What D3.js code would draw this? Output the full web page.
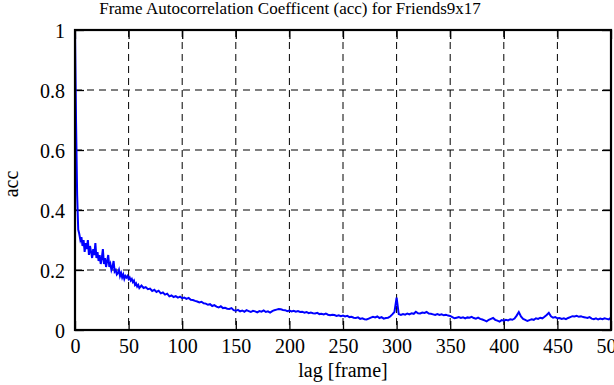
<!DOCTYPE html>
<html>
<head>
<meta charset="utf-8">
<script src="https://cdn.jsdelivr.net/npm/d3@7"></script>
<style>
  html, body { margin: 0; padding: 0; background: #fff; }
  svg { display: block; }
  text { font-family: "Liberation Serif", "Times New Roman", serif; fill: #000; }
</style>
</head>
<body>
<svg id="chart" width="614" height="385"></svg>
<script>
// ---- data ----
const title = "Frame Autocorrelation Coefficent (acc) for Friends9x17";
const xLabel = "lag [frame]";
const yLabel = "acc";
const xTicks = [0, 50, 100, 150, 200, 250, 300, 350, 400, 450, 500];
const yTicks = [0, 0.2, 0.4, 0.6, 0.8, 1];
const yTickLabels = ["0", "0.2", "0.4", "0.6", "0.8", "1"];

// acc for lag 0..60 (every frame)
const accHead = [
  1.0, 0.69, 0.45, 0.335, 0.32, 0.30, 0.31, 0.28, 0.30, 0.26,
  0.29, 0.27, 0.30, 0.25, 0.28, 0.26, 0.24, 0.27, 0.25, 0.29,
  0.24, 0.26, 0.23, 0.25, 0.22, 0.24, 0.27, 0.22, 0.24, 0.21,
  0.23, 0.25, 0.21, 0.22, 0.20, 0.21, 0.23, 0.195, 0.20, 0.185,
  0.19, 0.20, 0.18, 0.19, 0.175, 0.185, 0.17, 0.18, 0.175, 0.18,
  0.17, 0.175, 0.165, 0.17, 0.16, 0.165, 0.15, 0.155, 0.145, 0.15,
  0.14
];
// acc for lag 62..500 (every second frame)
const accTail = [
  0.148, 0.140, 0.143, 0.136, 0.138,
  0.130, 0.134, 0.127, 0.131, 0.122,
  0.125, 0.118, 0.121, 0.112, 0.115,
  0.110, 0.113, 0.108, 0.111, 0.106,
  0.108, 0.104, 0.107, 0.101, 0.100,
  0.097, 0.095, 0.092, 0.094, 0.089,
  0.088, 0.084, 0.086, 0.080, 0.083,
  0.078, 0.075, 0.079, 0.073, 0.074,
  0.071, 0.070, 0.073, 0.066, 0.064,
  0.067, 0.062, 0.065, 0.061, 0.066,
  0.063, 0.060, 0.064, 0.062, 0.059,
  0.063, 0.061, 0.065, 0.060, 0.062,
  0.058, 0.063, 0.066, 0.068, 0.070,
  0.069, 0.067, 0.066, 0.063, 0.065,
  0.062, 0.064, 0.061, 0.063, 0.060,
  0.061, 0.058, 0.060, 0.056, 0.058,
  0.056, 0.055, 0.057, 0.053, 0.054,
  0.052, 0.055, 0.051, 0.049, 0.051,
  0.050, 0.047, 0.049, 0.046, 0.048,
  0.045, 0.047, 0.043, 0.044, 0.041,
  0.040, 0.042, 0.037, 0.039, 0.036,
  0.035, 0.038, 0.041, 0.044, 0.042,
  0.045, 0.040, 0.043, 0.038, 0.040,
  0.041, 0.045, 0.052, 0.060, 0.108,
  0.053, 0.050, 0.053, 0.051, 0.055,
  0.052, 0.056, 0.054, 0.061, 0.056,
  0.055, 0.058, 0.057, 0.060, 0.055,
  0.054, 0.052, 0.050, 0.053, 0.050,
  0.052, 0.049, 0.051, 0.048, 0.047,
  0.043, 0.039, 0.041, 0.043, 0.040,
  0.042, 0.039, 0.042, 0.041, 0.044,
  0.040, 0.038, 0.041, 0.037, 0.035,
  0.032, 0.029, 0.034, 0.037, 0.040,
  0.034, 0.031, 0.028, 0.033, 0.031,
  0.034, 0.032, 0.036, 0.034, 0.038,
  0.048, 0.060, 0.045, 0.037, 0.034,
  0.030, 0.033, 0.036, 0.034, 0.039,
  0.037, 0.041, 0.039, 0.044, 0.050,
  0.057, 0.046, 0.041, 0.043, 0.039,
  0.040, 0.037, 0.039, 0.036, 0.040,
  0.043, 0.046, 0.045, 0.047, 0.044,
  0.046, 0.043, 0.042, 0.040, 0.043,
  0.038, 0.036, 0.039, 0.035, 0.038,
  0.036, 0.039, 0.037, 0.035, 0.042
];
const lagsHead = d3.range(0, 61, 1);
const lagsTail = d3.range(62, 501, 2);

const points = lagsHead.map((l, i) => ({lag: l, acc: accHead[i]}))
  .concat(lagsTail.map((l, i) => ({lag: l, acc: accTail[i]})));

// ---- layout ----
const svg = d3.select("#chart");
const m = {left: 75, right: 611, top: 30, bottom: 330};

const x = d3.scaleLinear().domain([0, 500]).range([m.left, m.right]);
const y = d3.scaleLinear().domain([0, 1]).range([m.bottom, m.top]);

// grid
const grid = svg.append("g");
grid.selectAll("line.gx").data(xTicks.slice(1, -1)).join("line")
  .attr("x1", d => x(d)).attr("x2", d => x(d))
  .attr("y1", m.top).attr("y2", m.bottom)
  .attr("stroke", "#000").attr("stroke-width", 1)
  .attr("stroke-dasharray", "7,5");
grid.selectAll("line.gy").data(yTicks.slice(1, -1)).join("line")
  .attr("x1", m.left).attr("x2", m.right)
  .attr("y1", d => y(d)).attr("y2", d => y(d))
  .attr("stroke", "#000").attr("stroke-width", 1)
  .attr("stroke-dasharray", "7,5");

// axes (ticks inward on all four sides)
const tickLen = 9;
const axB = svg.append("g").attr("transform", `translate(0,${m.bottom})`)
  .call(d3.axisBottom(x).tickValues(xTicks).tickSize(-tickLen).tickPadding(9).tickFormat(d3.format("d")));
const axT = svg.append("g").attr("transform", `translate(0,${m.top})`)
  .call(d3.axisTop(x).tickValues(xTicks).tickSize(-tickLen).tickFormat(""));
const axL = svg.append("g").attr("transform", `translate(${m.left},0)`)
  .call(d3.axisLeft(y).tickValues(yTicks).tickSize(-tickLen).tickPadding(10)
    .tickFormat((d, i) => yTickLabels[i]));
const axR = svg.append("g").attr("transform", `translate(${m.right},0)`)
  .call(d3.axisRight(y).tickValues(yTicks).tickSize(-tickLen).tickFormat(""));

[axB, axT, axL, axR].forEach(a => {
  a.select(".domain").remove();
  a.selectAll(".tick line").attr("stroke", "#000").attr("stroke-width", 1.3);
  a.selectAll("text").attr("font-family", "Liberation Serif, serif")
    .attr("font-size", 20).attr("fill", "#000");
});
axL.selectAll("text").attr("dy", "0.35em");

// data line
const line = d3.line().x(d => x(d.lag)).y(d => y(d.acc));
svg.append("path").datum(points)
  .attr("d", line)
  .attr("fill", "none")
  .attr("stroke", "#0000ff")
  .attr("stroke-width", 2)
  .attr("stroke-linejoin", "miter");

// frame
svg.append("rect")
  .attr("x", m.left).attr("y", m.top)
  .attr("width", m.right - m.left).attr("height", m.bottom - m.top)
  .attr("fill", "none").attr("stroke", "#000").attr("stroke-width", 2.2);

// title and labels
svg.append("text").attr("x", 290).attr("y", 14)
  .attr("text-anchor", "middle").attr("font-size", 17).text(title);
svg.append("text").attr("x", (m.left + m.right) / 2).attr("y", 377)
  .attr("text-anchor", "middle").attr("font-size", 20).text(xLabel);
svg.append("text").attr("transform", "translate(18,184) rotate(-90)")
  .attr("text-anchor", "middle").attr("font-size", 20).text(yLabel);
</script>
</body>
</html>
